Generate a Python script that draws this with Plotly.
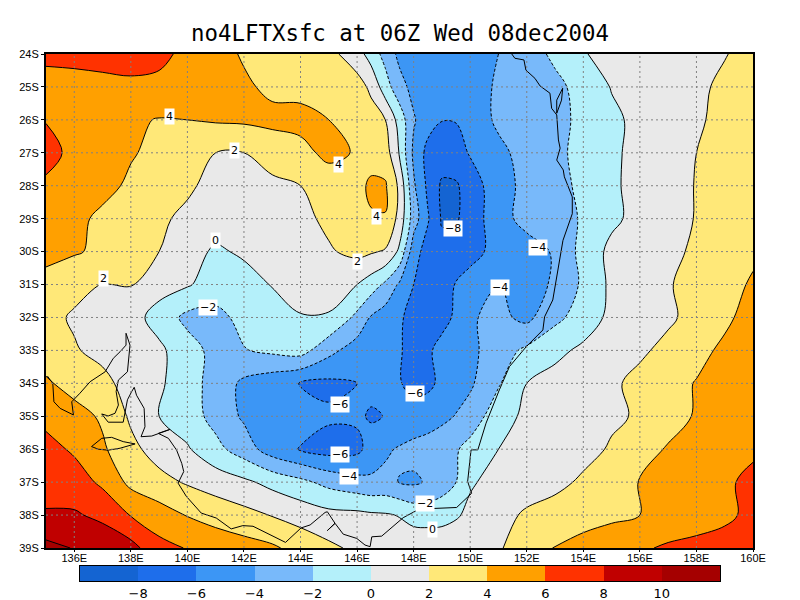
import plotly.graph_objects as go

# grid, finer in longitude where the gradient is tight
lons = [135, 136, 137, 138, 139, 140, 141, 142, 143, 144, 145, 146,
        146.5, 147, 147.5, 148, 148.5, 149, 149.5, 150,
        151, 152, 153, 154, 155, 156, 157, 158, 159, 160]
lats = [24, 25, 26, 27, 28, 29, 30, 31, 32, 33, 34, 35, 36, 37, 38, 39]

lftx = [
    [6.3, 6.4, 6.5, 6.6, 6.4, 5.6, 4.7, 3.8, 3.4, 3.0, 2.6, 0.9, -0.9, -2.7, -4.5, -5, -5.2, -5.3, -5.2, -5, -4, -2.9, -1.6, -0.1, 0.5, 0.9, 1.2, 1.5, 1.9, 2.7],
    [5.5, 5.5, 5.6, 5.7, 5.6, 5.0, 4.7, 4.3, 3.6, 3.3, 3.0, 2.8, 1.6, -1.1, -3.3, -4.6, -5.2, -5.5, -5.6, -5.0, -3.7, -3.2, -2.5, -1.3, 0.1, 0.6, 1.1, 1.6, 2.4, 3.0],
    [5.9, 5.2, 4.9, 4.3, 3.9, 4.0, 4.2, 4.3, 4.5, 4.7, 4.0, 3.3, 2.8, 2.0, -0.8, -3.8, -5.2, -5.95, -5.9, -5.0, -3.7, -3.1, -2.5, -1.6, -0.4, 0.5, 1.0, 1.6, 2.8, 3.4],
    [6.8, 5.4, 4.8, 4.2, 3.4, 2.6, 2.0, 2.0, 2.8, 3.3, 4.6, 3.8, 3.3, 3.0, -0.2, -4.4, -6.6, -7, -6.9, -5.8, -4.4, -3.4, -2.4, -1.5, -0.3, 0.5, 1.0, 2.0, 2.8, 3.4],
    [5.6, 5.2, 4.7, 3.6, 3.1, 2.3, 1.4, 1.2, 1.6, 2.0, 2.7, 3.5, 4.3, 4.2, 1.6, -3.7, -6.4, -8.3, -8.2, -7.2, -4.6, -3.6, -2.6, -1.6, -0.3, 0.6, 1.1, 2.1, 2.9, 3.5],
    [5.0, 4.6, 3.5, 2.9, 2.3, 1.6, 1.0, 0.7, 1.1, 1.5, 2.4, 3.0, 3.85, 3.95, 1.3, -3.0, -5.8, -8.2, -8.2, -7.2, -4.7, -3.4, -2.8, -1.8, -0.4, 0.6, 1.2, 2.1, 3, 3.6],
    [4.7, 4.2, 3.6, 2.8, 2.0, 0.8, -0.3, 0.3, 1.0, 1.4, 1.8, 2.5, 2.2, 1.8, -0.4, -5.2, -6.8, -7.4, -7.3, -6.6, -5.4, -4.8, -3.8, -1.3, 0.5, 0.9, 1.4, 2.4, 3.2, 3.7],
    [3.2, 2.5, 1.95, 2.1, 0.8, 0.2, -0.9, -0.8, 0.1, 0.7, 0.5, 0, -1, -2.4, -4.3, -6, -6.8, -6.6, -5.9, -5.3, -3.95, -4.3, -3.9, -1.6, 0.4, 1, 1.8, 2.9, 3.4, 4.2],
    [2.5, 1.8, 1.4, 0.8, -0.8, -2.5, -2.6, -1.4, -0.9, -0.1, -0.1, -2.5, -4.2, -5, -5.8, -6.5, -6.8, -6.4, -5.8, -4.2, -3.5, -4.5, -2.5, -1.1, 0.5, 1.0, 1.7, 2.6, 3.6, 4.8],
    [2.9, 2.15, 1.5, 1.0, 0.4, -1.2, -2.6, -2.1, -1.6, -1.2, -3.4, -5, -5.2, -5.4, -5.9, -6.4, -6.2, -5.6, -5.0, -4.5, -2.9, -1.6, -0.5, 0.4, 1.0, 1.7, 2.5, 3.4, 4.4, 5],
    [4.3, 3.2, 2.5, 1.3, 0.3, -1.1, -2.8, -4.4, -5.2, -6.1, -6.4, -6, -5.5, -5.5, -5.9, -6.5, -6.4, -5.6, -4.9, -4.3, -2.2, 0, 0.7, 1.2, 1.7, 2.5, 3.3, 4.1, 4.9, 5.4],
    [5.4, 4.8, 3.7, 1.7, 0, -1, -2.7, -4.3, -4.7, -5.2, -5.7, -5.7, -6.2, -5.95, -5.7, -5.3, -5, -4.5, -3.9, -3.2, -0.8, 0.4, 0.9, 1.3, 1.7, 2.2, 3.1, 4.2, 4.8, 5.4],
    [6.7, 5.7, 4.3, 2.5, 1.2, 0.2, -1.4, -3, -5.0, -6.1, -6.8, -6.5, -5.2, -4.3, -3.8, -3.4, -3.1, -2.7, -2.2, -1.3, 0, 0.5, 0.9, 1.4, 2.2, 3.1, 4.2, 4.8, 5.2, 5.6],
    [7.4, 7.0, 5.6, 3.5, 2.6, 1.8, 1.1, 0.4, -0.6, -1.5, -2.6, -3.3, -3.6, -3.5, -4.05, -4.3, -3.8, -3, -2, -0.2, 0.6, 1, 1.5, 2.3, 3.1, 4.1, 4.6, 5, 5.6, 6.6],
    [8.15, 8.2, 7.6, 5.9, 4.9, 3.9, 3.2, 2.6, 1.9, 1.2, 0.6, 0.5, 0.3, 0.2, -0.1, -0.7, -0.8, -0.7, -0.2, 0.4, 1.3, 2.3, 2.8, 3.2, 3.6, 4, 4.5, 5, 5.5, 6.6],
    [10.6, 9.9, 9.2, 8.7, 6.6, 5.9, 5.3, 4.8, 4.3, 3.3, 2.4, 1.6, 1.3, 1.2, 1.2, 1.3, 1.3, 1.3, 1.2, 1.3, 1.8, 3, 4.1, 4.7, 5.2, 5.7, 6.3, 6.6, 7, 7.6],
]

# one colour per 2-unit band, lowest first
band_colors = ["#1464d2", "#1e6eeb", "#3c96f5", "#78b9fa", "#b4f0fa", "#e9e9e9",
               "#ffe878", "#ffa000", "#ff3200", "#c00000", "#a50000"]
band_edges = [-10, -8, -6, -4, -2, 0, 2, 4, 6, 8, 10, 12]
bar_ticks = [-8, -6, -4, -2, 0, 2, 4, 6, 8, 10]

# coastline, mainland then Fraser Island and Kangaroo Island
coast_lon = [135.05, 135.24, 135.28, 135.5, 135.97, 135.91, 136.2, 136.56, 137.09, 137.38, 137.62, 137.83, 137.83, 137.97,
             137.88, 137.56, 137.48, 137.56, 137.44, 137.2, 136.97, 137.2, 137.73, 137.88, 138.03, 138.12, 138.2, 138.47,
             138.5, 138.36, 138.74, 139.03, 139.38, 138.97, 139.33, 139.62, 139.8, 139.87, 139.67, 139.96, 140.49, 141.02,
             141.55, 141.96, 142.32, 143.47, 144.02, 144.34, 144.87, 144.95, 145.22, 144.95, 145.22, 145.51, 145.99, 146.28,
             146.46, 146.52, 146.87, 147.63, 148.17, 148.7, 149.52, 150.05, 149.91, 150.03, 150.27, 150.56, 151.03, 151.39,
             151.98, 152.57, 152.63, 152.92, 153.28, 153.61, 153.61, 153.33, 153.29, 153.06, 153.18, 153.12, 153.06, 152.88,
             152.82, 152.47, 152.29, 151.97, 151.9, 151.58, 151.47, None,
             153.06, 153.06, 153.27, 153.23, 153.06, None,
             136.61, 136.97, 137.32, 137.73, 138.15, 137.62, 137.2, 136.85, 136.61]
coast_lat = [33.78, 34.0, 34.56, 34.76, 34.96, 34.56, 34.3, 33.95, 33.65, 33.24, 33.04, 32.84, 32.48, 32.84,
             33.65, 33.9, 34.25, 34.66, 34.91, 34.99, 34.93, 35.18, 35.18, 34.5, 34.25, 34.12, 34.36, 34.76,
             35.32, 35.62, 35.6, 35.5, 35.4, 35.52, 35.67, 36.03, 36.43, 36.68, 37.03, 37.43, 37.94, 38.09,
             38.42, 38.32, 38.34, 38.83, 38.39, 38.3, 37.92, 37.9, 38.25, 38.47, 38.25, 38.58, 38.71, 38.91,
             38.96, 38.66, 38.64, 38.08, 37.83, 37.8, 37.77, 37.34, 36.98, 36.02, 36.02, 35.21, 34.2, 33.49,
             32.89, 32.38, 31.98, 31.47, 29.66, 28.85, 28.34, 27.73, 27.52, 27.22, 26.86, 26.61, 25.85, 25.65,
             25.19, 24.97, 24.74, 24.49, 24.18, 24.13, 24.0, None,
             25.8, 25.4, 25.04, 25.4, 25.8, None,
             35.92, 35.67, 35.64, 35.77, 35.84, 35.97, 36.03, 36.0, 35.92]

# contour labels sitting on white boxes
label_text = ["4", "2", "4", "4", "0", "2", "2", "−8", "−4", "−4", "−2", "−6", "−6", "−4", "−6", "−2", "0"]
label_lon = [139.35, 141.68, 145.36, 146.69, 141.01, 146.01, 137.03, 149.4, 152.39, 151.05, 140.74, 145.4, 145.4, 145.72, 148.06, 148.4, 148.67]
label_lat = [25.91, 26.92, 27.34, 28.94, 29.65, 30.29, 30.82, 29.31, 29.87, 31.1, 31.69, 34.63, 36.17, 36.84, 34.32, 37.64, 38.43]

x_ticks = [136, 138, 140, 142, 144, 146, 148, 150, 152, 154, 156, 158, 160]
y_ticks = lats

stops = [[i / (len(band_colors) - 1), c] for i, c in enumerate(band_colors)]

# the page body has an 8px margin, figure is 792x592 from there
W, H = 792, 592

fig = go.Figure()

# filled bands
fig.add_trace(go.Contour(
    x=lons, y=lats, z=lftx, showscale=False, autocontour=False,
    contours=dict(start=-8, end=10, size=2, coloring="fill"),
    colorscale=stops,
    line=dict(width=0),
))

# negative contours dashed, the rest solid
fig.add_trace(go.Contour(
    x=lons, y=lats, z=lftx, showscale=False, autocontour=False,
    contours=dict(start=-8, end=-2, size=2, coloring="none"),
    line=dict(color="black", width=1, dash="3px,2px"),
))
fig.add_trace(go.Contour(
    x=lons, y=lats, z=lftx, showscale=False, autocontour=False,
    contours=dict(start=0, end=10, size=2, coloring="none"),
    line=dict(color="black", width=1),
))

fig.add_trace(go.Scatter(x=coast_lon, y=coast_lat, mode="lines", showlegend=False,
                         line=dict(color="black", width=1), hoverinfo="skip"))

# colour key as its own little axis so all 11 boxes come out full width
fig.add_trace(go.Heatmap(
    x=band_edges, y=[0, 1], z=[list(range(len(band_colors)))],
    zmin=0, zmax=len(band_colors) - 1, colorscale=stops, showscale=False,
    xaxis="x2", yaxis="y2", hoverinfo="skip",
))

# grid has to sit above the fill
for lon in x_ticks[:-1]:
    fig.add_shape(type="line", x0=lon, x1=lon, y0=0, y1=1, xref="x", yref="y domain", layer="above",
                  line=dict(color="#808080", width=1, dash="2px,3px"))
for lat in y_ticks[1:-1]:
    fig.add_shape(type="line", y0=lat, y1=lat, x0=0, x1=1, xref="x domain", yref="y", layer="above",
                  line=dict(color="#808080", width=1, dash="2px,3px"))

for txt, lon, lat in zip(label_text, label_lon, label_lat):
    fig.add_annotation(x=lon, y=lat, xref="x", yref="y", text=txt, showarrow=False, bgcolor="white", borderpad=1,
                       font=dict(family="DejaVu Sans", size=11, color="black"))

fig.update_layout(
    width=W, height=H,
    paper_bgcolor="white", plot_bgcolor="white",
    margin=dict(l=0, r=0, t=0, b=0, pad=0, autoexpand=False),
    showlegend=False,
    title=dict(text="no4LFTXsfc at 06Z Wed 08dec2004", x=(400 - 8) / W, xanchor="center", xref="paper",
               y=1 - (33 - 8) / H, yanchor="middle", yref="paper",
               font=dict(family="DejaVu Sans Mono", size=22.4, color="black")),
    xaxis=dict(domain=[(46 - 8) / W, (753 - 8) / W], range=[135, 160], anchor="y",
               tickmode="array", tickvals=x_ticks, ticktext=[f"{v}E" for v in x_ticks],
               showgrid=False, zeroline=False, showline=True, mirror=True, linecolor="black", linewidth=2,
               ticks="outside", ticklen=2, tickcolor="black", ticklabelstandoff=-3,
               tickfont=dict(family="Liberation Sans", size=11, color="black")),
    yaxis=dict(domain=[1 - (548 - 8) / H, 1 - (54 - 8) / H], range=[39, 24], anchor="x",
               tickmode="array", tickvals=y_ticks, ticktext=[f"{v}S" for v in y_ticks],
               showgrid=False, zeroline=False, showline=True, mirror=True, linecolor="black", linewidth=2,
               ticks="outside", ticklen=3, tickcolor="black",
               tickfont=dict(family="Liberation Sans", size=11, color="black")),
    xaxis2=dict(domain=[(80 - 8) / W, (720 - 8) / W], range=[-10, 12], anchor="y2",
                tickmode="array", tickvals=bar_ticks, showgrid=False, zeroline=False,
                showline=True, mirror=True, linecolor="black", linewidth=1, ticks="",
                tickfont=dict(family="DejaVu Sans", size=13, color="black")),
    yaxis2=dict(domain=[1 - (581 - 8) / H, 1 - (566 - 8) / H], range=[0, 1], anchor="x2",
                showticklabels=False, showgrid=False, zeroline=False,
                showline=True, mirror=True, linecolor="black", linewidth=1, ticks=""),
)

fig.write_html("out.html")
